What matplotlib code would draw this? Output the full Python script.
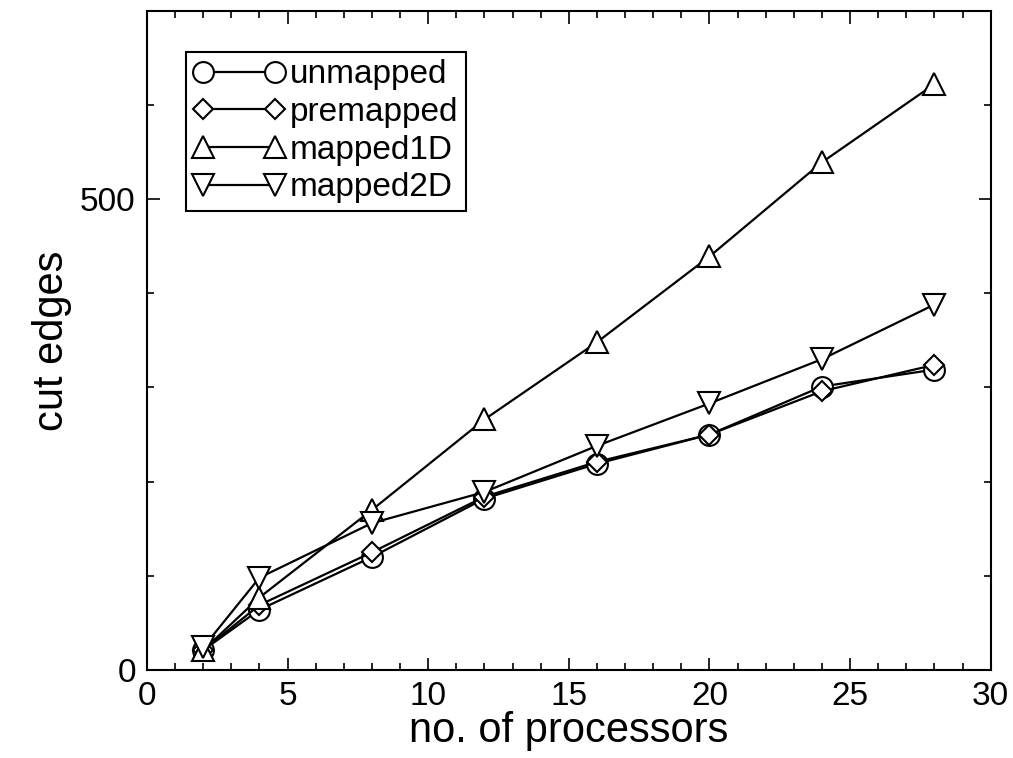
import matplotlib
matplotlib.use("Agg")
import matplotlib.pyplot as plt
from matplotlib.ticker import MultipleLocator

plt.rcParams["font.family"] = ["Liberation Sans", "DejaVu Sans"]

processors = [2, 4, 8, 12, 16, 20, 24, 28]
unmapped = [21, 64, 120, 182, 219, 250, 301, 319]
premapped = [21, 69, 125, 184, 221, 250, 296, 324]
mapped1d = [21, 77, 170, 266, 348, 439, 539, 622]
mapped2d = [24, 98, 156, 189, 238, 283, 330, 388]

series = [
    (unmapped, "unmapped", "o", 15),
    (premapped, "premapped", "D", 10.5),
    (mapped1d, "mapped1D", "^", 16),
    (mapped2d, "mapped2D", "v", 16),
]

fig = plt.figure(figsize=(10.13, 7.58), dpi=100)
ax = fig.add_axes([0.145, 0.116, 0.833, 0.870])

for ys, label, marker, ms in series:
    ax.plot(processors, ys, color="black", linewidth=1.6, marker=marker,
            markersize=ms, markerfacecolor="white", markeredgecolor="black",
            markeredgewidth=1.5, label=label)

ax.set_xlim(0, 30)
ax.set_ylim(0, 700)
ax.xaxis.set_major_locator(MultipleLocator(5))
ax.xaxis.set_minor_locator(MultipleLocator(1))
ax.set_yticks([0, 500])
ax.set_yticks([100, 200, 300, 400, 600], minor=True)
ax.tick_params(which="both", direction="in", top=True, right=True,
               labelsize=24, width=1.2, pad=8)
ax.tick_params(which="major", length=9)
ax.tick_params(which="minor", length=5)
for s in ax.spines.values():
    s.set_linewidth(1.5)

ax.set_xlabel("no. of processors", fontsize=30, labelpad=-1)
ax.set_ylabel("cut edges", fontsize=30, labelpad=6)

leg = ax.legend(loc="upper left", bbox_to_anchor=(0.046, 0.937), fontsize=24,
                numpoints=2, handlelength=2.75, handletextpad=0.15,
                borderpad=0.22, labelspacing=0.2, fancybox=False,
                framealpha=1, edgecolor="black", borderaxespad=0)
leg.get_frame().set_linewidth(1.5)

fig.savefig("out.png", dpi=100)
